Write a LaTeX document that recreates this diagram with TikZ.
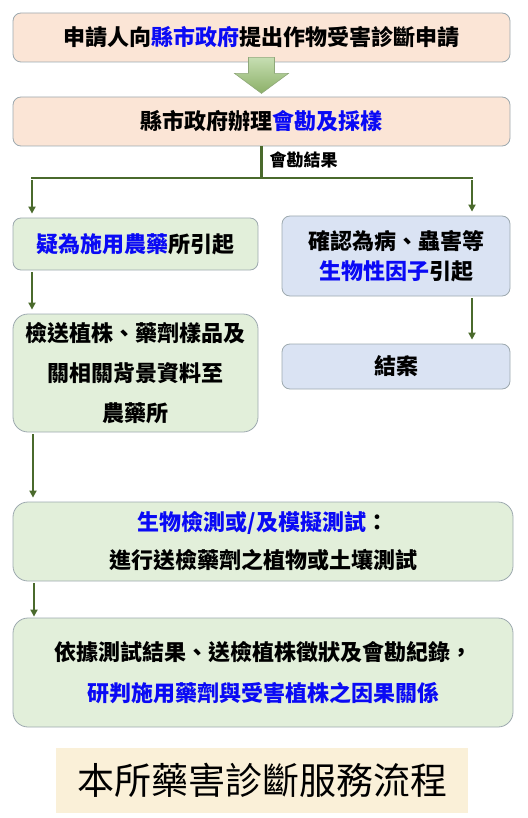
\documentclass[tikz,border=0pt]{standalone}
\usepackage{fontspec}
\setmainfont{Noto Sans CJK TC}
\usetikzlibrary{arrows.meta}
\definecolor{peach}{HTML}{FBE5D6}
\definecolor{leaf}{HTML}{E2EFDA}
\definecolor{sky}{HTML}{DAE3F3}
\definecolor{cream}{HTML}{FAF0D8}
\definecolor{rim}{HTML}{9DA9AF}
\definecolor{stem}{HTML}{4A6A2C}
\definecolor{ink}{HTML}{0A0AF5}
\definecolor{sprout}{HTML}{C6DEB2}
\definecolor{moss}{HTML}{8CB068}
\definecolor{mossrim}{HTML}{8FA87A}
\begin{document}
\begin{tikzpicture}[x=1pt,y=-1pt,
    box/.style={draw=rim,line width=0.8pt,rounded corners=8pt,inner sep=0pt,align=center,
      font=\fontsize{22}{40}\selectfont\bfseries},
    bigbox/.style={box,rounded corners=15pt},
    link/.style={draw=stem,line width=2.2pt},
    flow/.style={link,-{Triangle[width=7pt,length=7pt]},shorten >=4pt,shorten <=2pt}]
  \useasboundingbox (0,0) rectangle (527,818);
  % upper part
  \node[box,fill=peach,minimum width=497pt,minimum height=49pt]
    (apply) at (261.5,37.5) {申請人向\textcolor{ink}{縣市政府}提出作物受害診斷申請};
  \node[box,fill=peach,minimum width=497pt,minimum height=49pt]
    (survey) at (261.5,121.5) {縣市政府辦理\textcolor{ink}{會勘及採樣}};
  \draw[draw=mossrim,line width=0.6pt,top color=sprout,bottom color=moss]
    ([shift={(-13,-5)}]apply.south) -- ++(0,16) -- ++(-14,0) -- ++(27,20) -- ++(27,-20)
    -- ++(-14,0) -- ++(0,-16) -- cycle;
  % split
  \coordinate (split) at (261.5,178);
  \coordinate (lt) at (32,178);
  \coordinate (rt) at (472,178);
  \draw[link] (survey.south) -- (split);
  \draw[link,line cap=rect] (lt) -- (rt);
  \node[anchor=west,font=\fontsize{17}{20}\selectfont\bfseries] (result) at (266,159.5) {會勘結果};
  % two branches
  \node[box,fill=leaf,minimum width=245pt,minimum height=52pt]
    (pest) at (135.5,244) {\textcolor{ink}{疑為施用農藥}所引起};
  \node[box,fill=sky,minimum width=228pt,minimum height=80pt,font=\fontsize{22}{30}\selectfont\bfseries]
    (bio) at (396,256) {確認為病、蟲害等\\\textcolor{ink}{生物性因子}引起};
  \node[bigbox,fill=leaf,minimum width=245pt,minimum height=118pt]
    (send) at (135.5,373) {檢送植株、藥劑樣品及\\關相關背景資料至\\農藥所};
  \node[box,fill=sky,minimum width=228pt,minimum height=45pt]
    (close) at (396,366.5) {結案};
  % lower part
  \node[bigbox,fill=leaf,minimum width=500pt,minimum height=79pt,font=\fontsize{22}{38}\selectfont\bfseries]
    (test) at (263,541.5) {\textcolor{ink}{生物檢測或/及模擬測試}：\\進行送檢藥劑之植物或土壤測試};
  \node[bigbox,fill=leaf,minimum width=500pt,minimum height=109pt,font=\fontsize{22}{41}\selectfont\bfseries]
    (judge) at (263,672.5) {依據測試結果、送檢植株徵狀及會勘紀錄，\\\textcolor{ink}{研判施用藥劑與受害植株之因果關係}};
  \node[fill=cream,minimum width=412pt,minimum height=65pt,inner sep=0pt,font=\fontsize{37}{40}\selectfont]
    (title) at (262,780.5) {本所藥害診斷服務流程};
  % arrows
  \draw[flow] (lt) -- (lt |- pest.north);
  \draw[flow] (rt) -- (rt |- bio.north);
  \draw[flow] (lt |- pest.south) -- (lt |- send.north);
  \draw[flow] (rt |- bio.south) -- (rt |- close.north);
  \draw[flow] ([xshift=1pt]lt |- send.south) -- ([xshift=1pt]lt |- test.north);
  \draw[flow,shorten >=1pt] ([xshift=2pt]lt |- test.south) -- ([xshift=2pt]lt |- judge.north);
\end{tikzpicture}
\end{document}
